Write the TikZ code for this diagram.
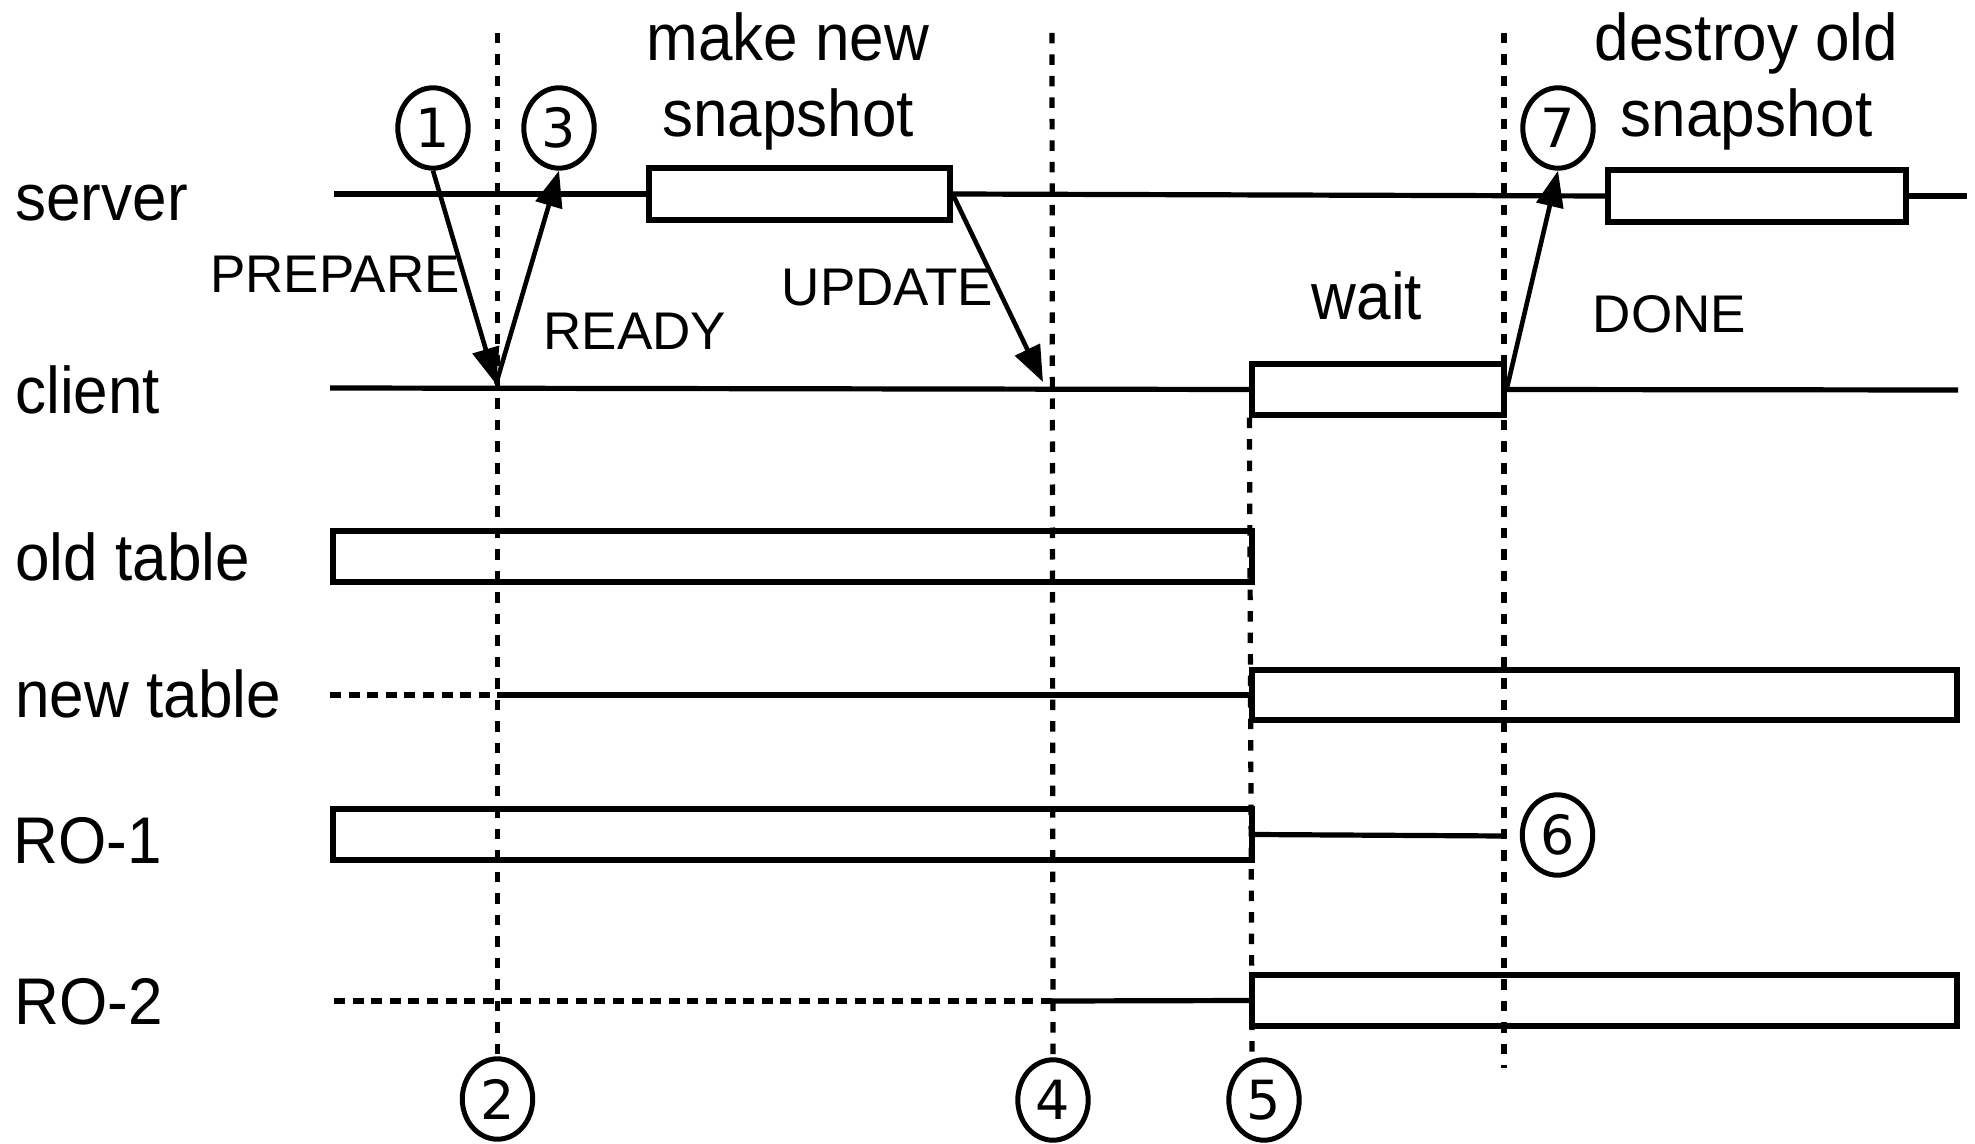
\documentclass[tikz,border=0pt]{standalone}
\usepackage{fontspec}
\setmainfont{Liberation Sans}
\newfontfamily\labfont[FakeStretch=0.94]{Liberation Sans}
\newfontfamily\digfont{DejaVu Sans}
\usetikzlibrary{shapes.geometric,arrows.meta}
\begin{document}
\begin{tikzpicture}[x=0.5pt,y=-0.5pt,
  lab/.style={font=\labfont\fontsize{33}{38}\selectfont, inner sep=0pt, anchor=base west},
  big/.style={font=\labfont\fontsize{33}{38}\selectfont, inner sep=0pt, anchor=base},
  msg/.style={font=\fontsize{26.5}{30}\selectfont, inner sep=0pt, anchor=base},
  num/.style={ellipse, draw, line width=2.5pt, minimum width=35.2pt, minimum height=40.2pt, inner sep=0pt, font=\digfont\fontsize{27}{30}\selectfont},
  bar/.style={draw, rectangle, line width=2.6pt, inner sep=0pt},
  life/.style={line width=2.6pt},
  vdash/.style={line width=2.6pt, dash pattern=on 5.25pt off 5.5pt},
  hdash/.style={line width=2.6pt, dash pattern=on 5.5pt off 3.8pt},
  msgarrow/.style={line width=2.3pt, -{Triangle[length=18pt,width=13.5pt]}}
]
\useasboundingbox (0,0) rectangle (1975,1144);

% row labels
\node[lab] (lserver) at (15,221) {server};
\node[lab] (lclient) at (15,414) {client};
\node[lab] (lold) at (15,580) {old table};
\node[lab] (lnew) at (15,717) {new table};
\node[lab] (lro1) at (13,863) {RO-1};
\node[lab] (lro2) at (14,1024) {RO-2};

% activity boxes
\node[bar, minimum width=150.5pt, minimum height=26pt] (snap1) at (799.5,194) {};
\node[bar, minimum width=149pt, minimum height=26pt] (snap2) at (1757,196) {};
\node[bar, minimum width=126pt, minimum height=25.5pt] (wait) at (1378,389.5) {};
\node[bar, minimum width=459.5pt, minimum height=25.5pt] (old) at (792.5,556.5) {};
\node[bar, minimum width=352.5pt, minimum height=25pt] (new) at (1604.5,695) {};
\node[bar, minimum width=459.5pt, minimum height=25.5pt] (ro1) at (792.5,834.5) {};
\node[bar, minimum width=352.5pt, minimum height=25.5pt] (ro2) at (1604.5,1000.5) {};

% numbered markers
\node[num] (c1) at (433,128) {1};
\node[num] (c3) at (559,128) {3};
\node[num] (c7) at (1558,128) {7};
\node[num] (c2) at (497.5,1099) {2};
\node[num] (c4) at (1053,1100) {4};
\node[num] (c5) at (1264,1100) {5};
\node[num] (c6) at (1557.5,835) {6};

% texts
\node[big] (mk1) at (788,61) {make new};
\node[big] (mk2) at (788,137) {snapshot};
\node[big] (ds1) at (1746.5,61) {destroy old};
\node[big] (ds2) at (1746.5,137) {snapshot};
\node[big] (twait) at (1367,320) {wait};
\node[msg] (tprep) at (335,293) {PREPARE};
\node[msg] (tready) at (635,350) {READY};
\node[msg] (tupd) at (887.5,306) {UPDATE};
\node[msg] (tdone) at (1669.5,333) {DONE};

% coordinates
\coordinate (sL) at (334,194);
\coordinate (sR) at (1967,196);
\coordinate (cL) at (330,388);
\coordinate (cR) at (1958,390);
\coordinate (nL) at (330,695);
\coordinate (nM) at (497.5,695);
\coordinate (r1E) at (1504,836);
\coordinate (r2L) at (334,1001);
\coordinate (r2M) at (1052,1001);
\coordinate (v2t) at (497.5,33);
\coordinate (v4t) at (1052,33);
\coordinate (v5b) at (1252,1053);
\coordinate (v7t) at (1504,33);
\coordinate (v7b) at (1504,1068);
\coordinate (p2) at (496,384);
\coordinate (u4) at (1043,382);

% vertical time markers
\draw[vdash] (v2t) -- ([yshift=-3pt]c2.north);
\draw[vdash] (v4t) -- ([yshift=-3pt]c4.north);
\draw[vdash] (wait.south west) -- (v5b);
\draw[vdash] (v7t) -- (v7b);

% lifelines
\draw[life] (sL) -- (snap1.west);
\draw[life] (snap1.east) -- (snap2.west);
\draw[life] (snap2.east) -- (sR);
\draw[life] (cL) -- (wait.west);
\draw[life] (wait.east) -- (cR);
\draw[hdash] (nL) -- (nM);
\draw[life] (nM) -- (new.west);
\draw[life] (ro1.east) -- (r1E);
\draw[hdash] (r2L) -- (r2M);
\draw[life] (r2M) -- (ro2.west);

% messages
\draw[msgarrow] (c1.south) -- (p2);
\draw[msgarrow] (p2) -- (c3.south);
\draw[msgarrow] (snap1.east) -- (u4);
\draw[msgarrow] (wait.east) -- (c7.south);
\end{tikzpicture}
\end{document}
